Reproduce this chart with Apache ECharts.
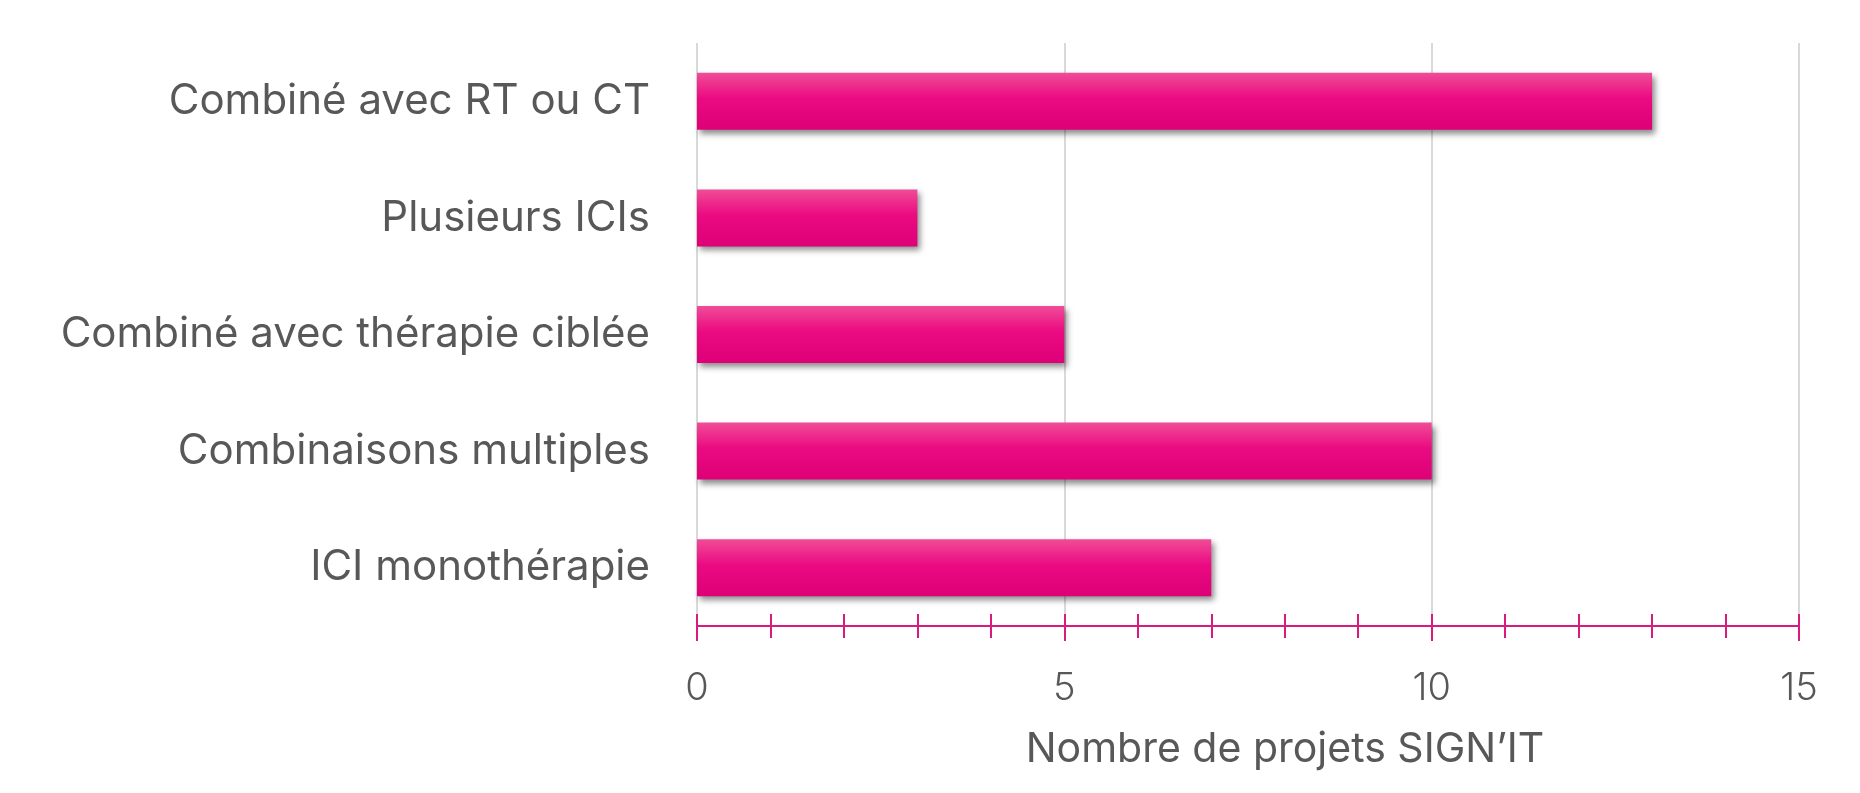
<!DOCTYPE html>
<html>
<head>
<meta charset="utf-8">
<script src="https://cdn.jsdelivr.net/npm/echarts@6/dist/echarts.min.js"></script>
<style>
    html, body { margin: 0; padding: 0; background: #fff; }
    #chart { width: 1860px; height: 793px; }
</style>
</head>
<body>
<div id="chart"></div>
<script>
    // catégories de haut en bas
    var categories = ['Combiné avec RT ou CT', 'Plusieurs ICIs', 'Combiné avec thérapie ciblée', 'Combinaisons multiples', 'ICI monothérapie'];
    var projets = [13, 3, 5, 10, 7];
    var axisMin = 0, axisMax = 15;
    var axisTitle = 'Nombre de projets SIGN\u2019IT';

    var textColor = '#585858';
    var pink = '#d81b7c';

    var chart = echarts.init(document.getElementById('chart'));

    var option = {
        animation: false,
        grid: { left: 697, right: 61, top: 43, bottom: 167 },
        xAxis: [
            {
                type: 'value',
                position: 'bottom',
                min: axisMin,
                max: axisMax,
                interval: 5,
                name: axisTitle,
                nameLocation: 'middle',
                nameGap: 103,
                nameTextStyle: {
                    fontFamily: 'Inter',
                    fontSize: 41,
                    color: textColor,
                    padding: [0, 0, 0, 74]
                },
                axisLine: { show: true, lineStyle: { color: pink, width: 2 } },
                axisTick: { show: true, length: 15, lineStyle: { color: pink, width: 2 } },
                minorTick: { show: true, splitNumber: 5, length: 12, lineStyle: { color: pink, width: 2 } },
                axisLabel: {
                    margin: 44,
                    fontFamily: 'Inter',
                    fontWeight: 300,
                    fontSize: 38,
                    color: textColor
                },
                splitLine: { show: true, lineStyle: { color: '#d9d9d9', width: 2 } }
            },
            {
                // petits traits au-dessus de l'axe
                type: 'value',
                position: 'bottom',
                min: axisMin,
                max: axisMax,
                interval: 1,
                axisLine: { show: false },
                axisTick: { show: true, inside: true, length: 12, lineStyle: { color: pink, width: 2 } },
                axisLabel: { show: false },
                splitLine: { show: false }
            }
        ],
        yAxis: {
            type: 'category',
            data: categories,
            inverse: true,
            axisLine: { show: false },
            axisTick: { show: false },
            axisLabel: {
                margin: 47,
                fontFamily: 'Inter',
                fontSize: 42,
                color: textColor
            }
        },
        series: [
            {
                type: 'bar',
                xAxisIndex: 0,
                data: projets,
                barWidth: 57,
                itemStyle: {
                    color: new echarts.graphic.LinearGradient(0, 0, 0, 1, [
                        { offset: 0, color: '#f04d97' },
                        { offset: 0.45, color: '#eb0a81' },
                        { offset: 1, color: '#dd0077' }
                    ]),
                    shadowBlur: 6,
                    shadowColor: 'rgba(0,0,0,0.45)',
                    shadowOffsetX: 3,
                    shadowOffsetY: 4
                }
            }
        ]
    };

    chart.setOption(option);
</script>
</body>
</html>
